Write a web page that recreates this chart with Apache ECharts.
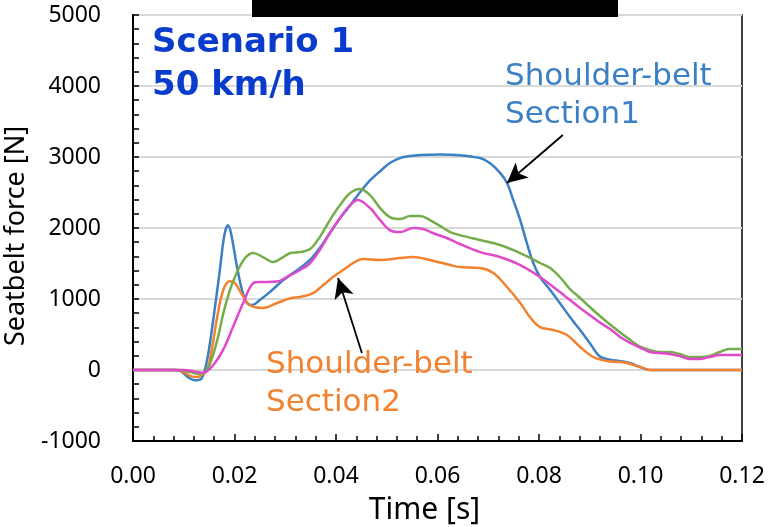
<!DOCTYPE html>
<html>
<head>
<meta charset="utf-8">
<script src="https://cdn.jsdelivr.net/npm/echarts@6/dist/echarts.min.js"></script>
<style>html,body{margin:0;padding:0;background:#fff}#c{width:769px;height:527px}</style>
</head>
<body>
<div id="c"></div>
<script>
// ---- data: [time s, force N] ----
const section1 = [[0,0],[0.008,0],[0.0095,-20],[0.011,-110],[0.0122,-145],[0.0135,-120],[0.0146,140],[0.0158,700],[0.0171,1400],[0.018,1900],[0.0187,2040],[0.0193,1930],[0.0205,1450],[0.0215,1120],[0.0225,940],[0.0235,915],[0.025,985],[0.027,1100],[0.029,1230],[0.031,1340],[0.033,1440],[0.035,1560],[0.0368,1720],[0.0388,1930],[0.0408,2140],[0.0428,2320],[0.0447,2500],[0.0467,2670],[0.0487,2800],[0.0506,2915],[0.0526,2985],[0.0546,3013],[0.0566,3027],[0.0605,3035],[0.0644,3025],[0.0684,2985],[0.0703,2915],[0.0723,2780],[0.0737,2633],[0.0749,2400],[0.0763,2110],[0.0776,1790],[0.0788,1520],[0.0802,1310],[0.0822,1126],[0.0841,943],[0.0861,746],[0.0881,563],[0.09,380],[0.092,190],[0.094,145],[0.096,125],[0.098,95],[0.0999,42],[0.1018,0],[0.12,0]];
const section2 = [[0,0],[0.0085,0],[0.010,-30],[0.0115,-90],[0.0126,-100],[0.0137,-60],[0.0146,0],[0.0156,320],[0.0166,750],[0.0178,1130],[0.0191,1250],[0.0201,1225],[0.0215,1060],[0.023,915],[0.0256,873],[0.0284,943],[0.031,1010],[0.0329,1028],[0.0355,1084],[0.0375,1197],[0.0394,1310],[0.0414,1408],[0.0434,1507],[0.0453,1563],[0.0487,1549],[0.0526,1577],[0.0552,1591],[0.0585,1549],[0.0625,1478],[0.0644,1450],[0.0684,1436],[0.071,1366],[0.0737,1169],[0.0763,943],[0.0782,746],[0.0802,605],[0.0828,563],[0.0855,493],[0.0881,324],[0.0907,183],[0.0934,127],[0.096,113],[0.0973,99],[0.1005,28],[0.1018,0],[0.12,0]];
const greenSeries = [[0,0],[0.009,0],[0.011,-25],[0.0132,-55],[0.0148,30],[0.0166,420],[0.0178,800],[0.0191,1126],[0.0205,1380],[0.0221,1577],[0.0237,1647],[0.0256,1591],[0.0276,1520],[0.0296,1591],[0.031,1647],[0.0329,1661],[0.0349,1703],[0.0368,1872],[0.0388,2112],[0.0408,2323],[0.0428,2492],[0.0447,2548],[0.0467,2464],[0.0487,2281],[0.0506,2154],[0.0526,2126],[0.0546,2168],[0.0566,2168],[0.0585,2112],[0.0605,2030],[0.0625,1943],[0.0644,1900],[0.0684,1830],[0.0723,1760],[0.0763,1647],[0.0802,1507],[0.0822,1436],[0.0841,1310],[0.0861,1140],[0.0881,1014],[0.09,887],[0.092,760],[0.094,640],[0.096,528],[0.098,422],[0.0999,330],[0.1018,282],[0.1038,253],[0.1057,253],[0.1077,225],[0.1097,183],[0.1116,183],[0.1136,197],[0.1156,253],[0.1175,296],[0.12,296]];
const pinkSeries = [[0,0],[0.010,0],[0.012,-20],[0.0138,-40],[0.0158,70],[0.0178,290],[0.0197,605],[0.0217,943],[0.0237,1225],[0.025,1240],[0.0264,1240],[0.0284,1245],[0.0303,1310],[0.0329,1408],[0.0349,1507],[0.0368,1690],[0.0388,1929],[0.0408,2140],[0.0428,2323],[0.0443,2394],[0.0467,2281],[0.0487,2112],[0.0506,1971],[0.0526,1943],[0.0552,2000],[0.0572,1985],[0.0591,1929],[0.0618,1859],[0.0644,1775],[0.0684,1661],[0.0723,1591],[0.0763,1478],[0.0802,1310],[0.0841,1098],[0.0881,873],[0.092,670],[0.094,577],[0.096,465],[0.098,380],[0.0999,317],[0.1018,253],[0.1038,239],[0.1057,225],[0.1077,197],[0.1097,155],[0.1116,155],[0.1136,183],[0.1156,211],[0.12,211]];
// annotation arrows [tail, head] in data coords
const arrow1 = [[0.0847,3310],[0.0737,2633]];
const arrow2 = [[0.0451,239],[0.0404,1295]];
// axes
const xMin = 0, xMax = 0.12, xStep = 0.02;
const yMin = -1000, yMax = 5000, yStep = 1000;
const titleLines = ['Scenario 1','50 km/h'];
const label1 = 'Shoulder-belt\nSection1';
const label2 = 'Shoulder-belt\nSection2';

const chart = echarts.init(document.getElementById('c'));
const FONT = '"Noto Sans", sans-serif';
const LFONT = '31px "DejaVu Sans", sans-serif';
function arrowMark(a){
  return {silent:true, symbol:['none','arrow'], symbolSize:[15,20], label:{show:false},
    lineStyle:{color:'#000',width:1.8,type:'solid'},
    data:[[{coord:a[0]},{coord:a[1]}]]};
}
function line(name,data,color,extra){
  return Object.assign({name, type:'line', data, showSymbol:false, smooth:0.35,
    lineStyle:{color,width:2.5}, itemStyle:{color}}, extra||{});
}
chart.setOption({
  animation:false,
  grid:{left:133,right:27,top:15,bottom:86,show:true,borderColor:'#000',borderWidth:1.5,outerBoundsMode:'none'},
  xAxis:{type:'value',min:xMin,max:xMax,interval:xStep,
    name:'Time [s]',nameLocation:'middle',nameGap:54,
    nameTextStyle:{fontFamily:FONT,fontSize:30,color:'#000',padding:[0,26,0,0]},
    axisLine:{onZero:false,lineStyle:{color:'#000',width:2}},
    axisTick:{inside:true,length:7,lineStyle:{color:'#000',width:1.5}},
    minorTick:{show:true,splitNumber:5,length:5,lineStyle:{color:'#000',width:1.5}},
    splitLine:{show:false},
    axisLabel:{fontFamily:FONT,fontSize:23,color:'#000',margin:24,formatter:v=>v.toFixed(2)}},
  yAxis:{type:'value',min:yMin,max:yMax,interval:yStep,
    name:'Seatbelt force [N]',nameLocation:'middle',nameGap:103,
    nameTextStyle:{fontFamily:FONT,fontSize:27,color:'#000',padding:[0,16,0,0]},
    axisLine:{lineStyle:{color:'#000',width:2}},
    axisTick:{inside:true,length:6,lineStyle:{color:'#000',width:1.5}},
    minorTick:{show:true,splitNumber:5,length:6,lineStyle:{color:'#000',width:1.5}},
    splitLine:{lineStyle:{color:'#d9d9d9',width:2}},
    axisLabel:{fontFamily:FONT,fontSize:23,color:'#000',margin:32,formatter:v=>String(v)}},
  series:[
    line('Section1',section1,'#3b7fc4',{markLine:arrowMark(arrow1)}),
    line('Section2',section2,'#f28230',{markLine:arrowMark(arrow2)}),
    line('Green',greenSeries,'#74ad4a'),
    line('Pink',pinkSeries,'#e04ac8')
  ],
  graphic:[
    {type:'rect',shape:{x:252,y:0,width:366,height:17},style:{fill:'#000'},z:100},
    {type:'text',z:50,style:{x:152,y:43,text:titleLines[0],fill:'#0a3ccc',font:'bold 34px "DejaVu Sans", sans-serif',verticalAlign:'middle'}},
    {type:'text',z:50,style:{x:152,y:86,text:titleLines[1],fill:'#0a3ccc',font:'bold 34px "DejaVu Sans", sans-serif',verticalAlign:'middle'}},
    {type:'text',z:50,style:{x:505,y:58,text:label1,fill:'#3b7fc4',font:LFONT,lineHeight:38,verticalAlign:'top'}},
    {type:'text',z:50,style:{x:266,y:346,text:label2,fill:'#f28230',font:LFONT,lineHeight:38,verticalAlign:'top'}}
  ]
});
</script>
</body>
</html>
